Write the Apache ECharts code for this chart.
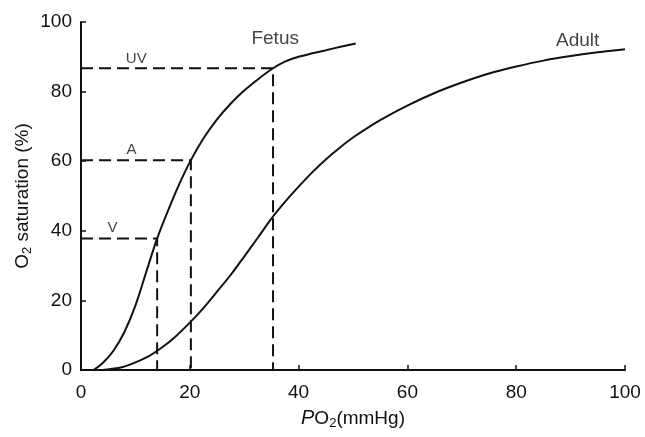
<!DOCTYPE html>
<html><head><meta charset="utf-8">
<script src="https://cdn.jsdelivr.net/npm/echarts@6/dist/echarts.min.js"></script>
<style>html,body{margin:0;padding:0;background:#fff}#c{width:645px;height:437px}</style>
</head><body><div id="c"></div>
<script>
const xTicks = [0, 20, 40, 60, 80, 100];
const yTicks = [0, 20, 40, 60, 80, 100];
const fetusPO2 = [2.3, 4, 6, 8, 10, 12, 14, 16, 18, 20.2, 22.5, 25, 27.5, 30, 32.5, 35.3, 37.5, 40, 42.5, 45, 47.5, 50.5];
const fetusSat = [0, 2, 5.6, 11, 18.5, 28.2, 37.8, 45.8, 53.2, 60.3, 66.5, 72, 76.5, 80.3, 83.5, 86.7, 88.6, 90, 91, 91.9, 92.8, 93.8];
const adultPO2 = [4, 7.5, 10, 12.5, 15, 17.5, 20, 22.5, 25, 27.5, 30, 32.5, 35, 37.5, 40, 42.5, 45, 47.5, 50, 55, 60, 65, 70, 75, 80, 85, 90, 95, 100];
const adultSat = [0, 0.8, 2.2, 4, 6.6, 9.8, 13.6, 17.8, 22.5, 27.3, 32.6, 38, 43.5, 48.3, 52.7, 56.8, 60.5, 63.8, 66.8, 71.8, 76, 79.6, 82.6, 85.2, 87.2, 88.9, 90.2, 91.3, 92.2];
const refNames = ['V', 'A', 'UV'];
const refPO2 = [14, 20.2, 35.3];
const refSat = [37.8, 60.3, 86.7];
const curveNames = ['Fetus', 'Adult'];

const zip = (a, b) => a.map((v, i) => [v, b[i]]);
const font = 'Liberation Sans, Arial, sans-serif';
const ink = '#111';
const series = [];
series.push({type:'line', smooth:0.3, symbol:'none', data:zip(fetusPO2, fetusSat),
  lineStyle:{color:ink, width:2}});
series.push({type:'line', smooth:0.3, symbol:'none', data:zip(adultPO2, adultSat),
  lineStyle:{color:ink, width:2}});
refNames.forEach((n, i) => {
  series.push({type:'line', symbol:'none', data:[[0, refSat[i]], [refPO2[i], refSat[i]], [refPO2[i], 0]],
    lineStyle:{color:ink, width:2, type:[12, 6]}});
  series.push({type:'scatter', symbolSize:0, data:[[refPO2[i] / 2 + (n === 'UV' ? -7.5 : (n === 'A' ? -0.8 : -1.2)), refSat[i]]],
    label:{show:true, formatter:n, position:'top', distance:(n === 'UV' ? 2 : 3), color:ink, fontSize:15,
      fontFamily:font, textBorderWidth:0}});
});
series.push({type:'scatter', symbolSize:0, data:[[35.7, 95.2], [91.3, 94.6]],
  label:{show:true, formatter:p => curveNames[p.dataIndex], position:'inside', color:ink, fontSize:19,
    fontFamily:font, textBorderWidth:0}});

const chart = echarts.init(document.getElementById('c'), null, {renderer:'canvas'});
chart.setOption({
  animation:false,
  backgroundColor:'#fff',
  grid:{left:81, right:20, top:22, bottom:67, containLabel:false},
  xAxis:{type:'value', min:0, max:100, interval:20,
    name:'{i|P}O{s|2}(mmHg)', nameLocation:'middle', nameGap:37,
    nameTextStyle:{color:ink, fontSize:19, fontFamily:font,
      rich:{i:{fontStyle:'italic', fontSize:20, fontFamily:font, color:ink}, s:{fontSize:13, verticalAlign:'bottom', padding:[10,0,0,0], fontFamily:font, color:ink}}},
    axisLine:{lineStyle:{color:ink, width:2}},
    axisTick:{inside:true, length:5, lineStyle:{color:ink, width:1.5}},
    axisLabel:{color:ink, fontSize:19, fontFamily:font, margin:13, formatter:v => xTicks.includes(v) ? String(v) : ''},
    splitLine:{show:false}},
  yAxis:{type:'value', min:0, max:100, interval:20,
    name:'O{s|2} saturation (%)', nameLocation:'middle', nameGap:47, nameRotate:90, nameMoveOverlap:false,
    nameTextStyle:{color:ink, fontSize:19, fontFamily:font,
      rich:{s:{fontSize:13, verticalAlign:'bottom', padding:[10,0,0,0], fontFamily:font, color:ink}}},
    axisLine:{show:true, lineStyle:{color:ink, width:2}},
    axisTick:{show:true, inside:true, length:5, lineStyle:{color:ink, width:1.5}},
    axisLabel:{color:ink, fontSize:19, fontFamily:font, margin:9, formatter:v => yTicks.includes(v) ? String(v) : ''},
    splitLine:{show:false}},
  series: series
});
</script></body></html>
